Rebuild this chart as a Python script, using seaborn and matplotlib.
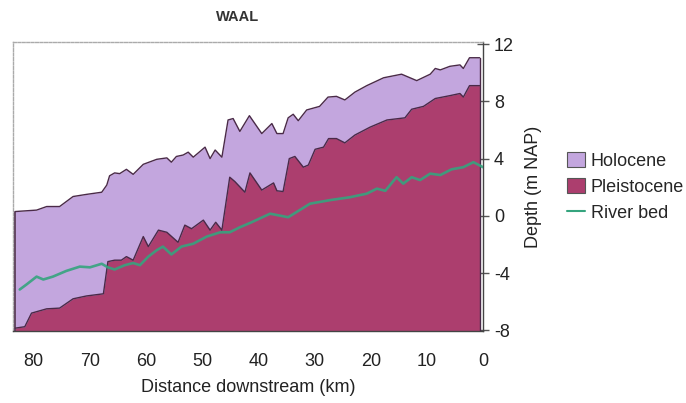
import matplotlib
matplotlib.use("Agg")
import matplotlib.pyplot as plt
import seaborn as sns
from matplotlib.patches import Patch
from matplotlib.lines import Line2D

# ---- data (km downstream, depth m NAP) ----
km_holo = [83.3, 79.5, 77.7, 75.4, 73.0, 70.6, 67.9, 67.0, 66.5, 65.6, 64.7, 63.5, 62.3,
           60.5, 58.1, 56.3, 55.5, 54.6, 53.4, 52.5, 51.6, 49.5, 48.6, 47.7, 46.5, 45.4,
           44.5, 43.3, 41.6, 39.4, 37.6, 36.7, 35.6, 34.7, 33.8, 32.9, 31.4, 29.1, 27.6,
           26.1, 24.6, 22.8, 20.7, 17.7, 14.5, 11.8, 9.4, 8.5, 7.6, 5.9, 4.1, 3.5, 2.4, 0.6]
holocene = [0.3, 0.4, 0.65, 0.65, 1.35, 1.5, 1.65, 2.15, 2.8, 3.0, 2.95, 3.25, 2.9,
            3.6, 3.95, 4.05, 3.75, 4.15, 4.25, 4.45, 4.1, 4.8, 4.0, 4.6, 4.1, 6.7,
            6.8, 5.9, 7.0, 5.75, 6.45, 5.75, 5.75, 6.85, 7.1, 6.65, 7.4, 7.65, 8.3,
            8.35, 8.1, 8.65, 9.1, 9.65, 9.9, 9.45, 9.9, 10.3, 10.2, 10.45, 10.55, 10.3, 11.05, 11.05]

km_pleis = [83.3, 81.6, 80.4, 79.5, 77.7, 75.4, 73.0, 70.6, 67.6, 66.8, 65.6, 64.4, 63.5,
            62.3, 60.5, 59.6, 57.8, 56.3, 54.3, 53.1, 51.9, 49.8, 48.6, 47.6, 46.5, 45.1,
            44.2, 42.4, 41.5, 39.4, 37.3, 36.7, 35.6, 34.5, 33.5, 32.0, 31.1, 29.9, 28.4,
            27.5, 26.1, 24.6, 22.8, 20.1, 17.1, 13.9, 12.7, 10.6, 8.5, 5.9, 4.1, 3.5, 2.4, 0.6]
pleistocene = [-7.85, -7.75, -6.8, -6.7, -6.5, -6.45, -5.8, -5.6, -5.45, -3.2, -3.1, -3.1, -2.85,
               -3.1, -1.45, -2.15, -1.0, -1.15, -1.85, -0.65, -0.9, -0.3, -1.0, -0.45, -1.0, 2.7,
               2.4, 1.65, 3.0, 1.8, 2.3, 1.75, 1.7, 4.0, 4.15, 3.4, 3.55, 4.65, 4.8,
               5.4, 5.4, 5.1, 5.65, 6.2, 6.7, 6.85, 7.45, 7.65, 8.2, 8.4, 8.55, 8.3, 9.1, 9.1]

km_river = [82.5, 81.3, 79.5, 78.3, 76.6, 74.2, 71.8, 70.0, 67.9, 66.8, 65.6, 63.8, 62.3,
            61.1, 59.6, 58.1, 57.0, 55.5, 53.7, 51.6, 49.2, 46.8, 45.1, 43.3, 41.5, 37.9,
            34.7, 30.8, 27.2, 23.7, 20.7, 18.9, 17.4, 15.4, 14.2, 12.7, 11.2, 9.4, 7.6,
            5.6, 3.5, 1.7, 0.0]
river_bed = [-5.15, -4.8, -4.25, -4.45, -4.25, -3.85, -3.55, -3.6, -3.35, -3.6, -3.75, -3.45, -3.3,
             -3.45, -2.85, -2.4, -2.15, -2.7, -2.15, -1.95, -1.45, -1.15, -1.15, -0.8, -0.5, 0.15,
             -0.1, 0.85, 1.1, 1.3, 1.55, 1.9, 1.75, 2.7, 2.25, 2.7, 2.5, 2.95, 2.85,
             3.25, 3.4, 3.75, 3.4]

x_ticks = [80, 70, 60, 50, 40, 30, 20, 10, 0]
y_ticks = [-8, -4, 0, 4, 8, 12]

# ---- style ----
sns.set_style("white")
plt.rcParams['font.family'] = ['Liberation Sans', 'DejaVu Sans']
plt.rcParams['axes.unicode_minus'] = False

PURPLE = "#c3a6de"
MAROON = "#ac3e6e"
GREEN = "#35a47e"
EDGE = "#4a2a48"
YMIN, YMAX = -8.05, 12.15

fig = plt.figure(figsize=(6.86, 4.03), dpi=100)
ax = fig.add_axes([13/686, 1 - 331/403, (483 - 13)/686, (331 - 42)/403])

ax.fill_between(km_holo, YMIN, holocene, color=PURPLE, lw=0, zorder=1)
ax.fill_between(km_pleis, YMIN, pleistocene, color=MAROON, lw=0, zorder=2)
sns.lineplot(x=km_holo, y=holocene, sort=False, color=EDGE, lw=1.0, ax=ax, zorder=3)
sns.lineplot(x=km_pleis, y=pleistocene, sort=False, color=EDGE, lw=1.0, ax=ax, zorder=3)
# vertical end edges
ax.plot([km_holo[0], km_holo[0]], [YMIN, holocene[0]], color=EDGE, lw=1.2, zorder=3)
ax.plot([km_holo[-1], km_holo[-1]], [YMIN, holocene[-1]], color=EDGE, lw=1.0, zorder=3)
sns.lineplot(x=km_river, y=river_bed, sort=False, color=GREEN, lw=1.9, alpha=0.9, ax=ax, zorder=4)

ax.set_xlim(83.7, 0)
ax.set_ylim(YMIN, YMAX)
ax.set_xticks(x_ticks)
ax.set_yticks(y_ticks)
ax.yaxis.tick_right()
ax.yaxis.set_label_position("right")
ax.tick_params(axis='x', direction='out', length=6, width=1, color="#555555",
               labelsize=13, labelcolor="#222222", pad=10)
ax.tick_params(axis='y', direction='inout', length=8, width=1, color="#555555",
               labelsize=13, labelcolor="#222222", pad=4)
ax.set_xlabel("Distance downstream (km)", fontsize=13, color="#222222", labelpad=6)
ax.set_ylabel("Depth (m NAP)", fontsize=13, color="#222222", labelpad=8)

for s in ("top", "left"):
    ax.spines[s].set_color("#aaaaaa")
    ax.spines[s].set_linestyle((0, (2, 1.2)))
    ax.spines[s].set_linewidth(1.0)
for s in ("bottom", "right"):
    ax.spines[s].set_color("#444444")
    ax.spines[s].set_linewidth(1.0)

fig.text(238/686, 1 - 17/403, "WAAL", ha="center", va="center", fontsize=10.5,
         fontweight="bold", color="#333333")

handles = [Patch(facecolor=PURPLE, edgecolor="#555555", lw=0.8, label="Holocene"),
           Patch(facecolor=MAROON, edgecolor="#555555", lw=0.8, label="Pleistocene"),
           Line2D([0], [0], color=GREEN, lw=1.5, label="River bed")]
fig.legend(handles=handles, loc="center left", bbox_to_anchor=(560/686, 1 - 187/403),
           frameon=False, fontsize=13, handlelength=1.0, handleheight=0.9,
           handletextpad=0.3, labelspacing=0.45, borderaxespad=0)

fig.savefig("out.png", dpi=100)
